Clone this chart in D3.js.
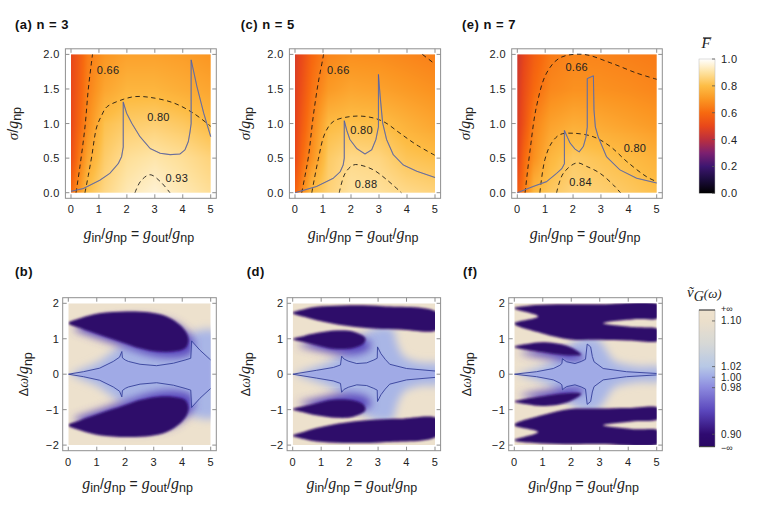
<!DOCTYPE html>
<html><head><meta charset="utf-8">
<script src="https://cdn.jsdelivr.net/npm/d3@7/dist/d3.min.js"></script>
<style>
html,body{margin:0;padding:0;background:#fff;}
svg{display:block}
text{white-space:pre}
</style></head>
<body>
<svg id="fig" width="763" height="514" xmlns="http://www.w3.org/2000/svg"></svg>
<script>
// ================= DATA =================
const topTitles = ["(a) n = 3", "(c) n = 5", "(e) n = 7"];
const bottomTitles = ["(b)", "(d)", "(f)"];
const xTickValues = [0, 1, 2, 3, 4, 5];
const sigmaTickValues = [0, 0.5, 1, 1.5, 2];
const omegaTickValues = [-2, -1, 0, 1, 2];
const fBarTicks = [0, 0.2, 0.4, 0.6, 0.8, 1.0];
const vBarTickValues = [0.86, 0.90, 0.98, 1.00, 1.02, 1.10, 1.14];
const vBarTickLabels = ["−∞", "0.90", "0.98", "1.00", "1.02", "1.10", "+∞"];

// mean fidelity F(g, sigma) sampled on a coarse grid (rows: sigma, cols: g)
const fGridG = [0, 0.25, 0.6, 1.2, 2, 3, 4, 5];
const fGridSigma = [0, 0.5, 1, 1.5, 2];
const fieldN3 = [
  [0.60, 0.69, 0.81, 0.87, 0.92, 0.955, 0.92, 0.89],
  [0.52, 0.62, 0.74, 0.84, 0.89, 0.91, 0.89, 0.86],
  [0.50, 0.58, 0.68, 0.81, 0.84, 0.85, 0.83, 0.795],
  [0.50, 0.56, 0.655, 0.74, 0.78, 0.78, 0.76, 0.74],
  [0.50, 0.55, 0.64, 0.70, 0.73, 0.73, 0.72, 0.70]];
const fieldN5 = [
  [0.58, 0.665, 0.80, 0.855, 0.90, 0.895, 0.875, 0.86],
  [0.50, 0.60, 0.69, 0.835, 0.875, 0.865, 0.82, 0.805],
  [0.48, 0.56, 0.655, 0.795, 0.81, 0.805, 0.77, 0.74],
  [0.47, 0.53, 0.62, 0.71, 0.74, 0.73, 0.71, 0.69],
  [0.46, 0.51, 0.59, 0.665, 0.685, 0.68, 0.665, 0.65]];
const fieldN7 = [
  [0.56, 0.64, 0.79, 0.83, 0.86, 0.85, 0.83, 0.81],
  [0.48, 0.60, 0.69, 0.785, 0.835, 0.815, 0.797, 0.77],
  [0.46, 0.54, 0.66, 0.73, 0.76, 0.75, 0.73, 0.71],
  [0.45, 0.52, 0.60, 0.67, 0.69, 0.69, 0.68, 0.665],
  [0.44, 0.50, 0.57, 0.64, 0.665, 0.66, 0.65, 0.64]];

// solid boundary curves (g, sigma)
const boundaryN3 = [[0,0.02],[0.44,0.06],[1.03,0.18],[1.39,0.28],[1.69,0.42],[1.81,0.52],[1.87,0.66],[1.87,1.31],[1.99,1.15],[2.18,1.0],[2.47,0.81],[2.83,0.64],[3.19,0.57],[3.55,0.55],[3.9,0.56],[4.08,0.62],[4.2,0.74],[4.26,0.88],[4.3,1.0],[4.3,1.92],[4.51,1.53],[4.75,1.15],[5,0.81]];
const boundaryN5 = [[0,0.0],[0.77,0.09],[1.37,0.21],[1.61,0.30],[1.72,0.40],[1.76,0.5],[1.76,1.04],[1.85,0.9],[1.96,0.77],[2.2,0.64],[2.5,0.56],[2.74,0.62],[2.89,0.77],[2.98,0.95],[2.98,1.71],[3.04,1.40],[3.13,1.01],[3.27,0.77],[3.51,0.55],[3.87,0.40],[4.35,0.31],[5,0.22]];
const boundaryN7 = [[0,0.0],[0.57,0.09],[1.05,0.16],[1.41,0.28],[1.6,0.35],[1.69,0.42],[1.69,0.9],[1.8,0.8],[1.89,0.72],[2.07,0.63],[2.22,0.59],[2.37,0.67],[2.46,0.8],[2.51,0.95],[2.51,1.65],[2.73,1.69],[2.75,1.2],[2.8,0.95],[2.9,0.81],[3.2,0.52],[3.68,0.33],[4.28,0.21],[5,0.14]];

// dashed fidelity contours
const contoursN3 = [
  [[0.18,0],[0.32,0.38],[0.5,0.95],[0.62,1.5],[0.77,2.0]],
  [[0.5,0],[0.62,0.25],[0.74,0.52],[0.92,0.95],[1.1,1.12],[1.28,1.24],[1.87,1.35],[2.3,1.39],[2.8,1.38],[3.66,1.3],[4.38,1.15],[5,0.96]],
  [[2.29,0],[2.5,0.17],[2.83,0.26],[3.2,0.16],[3.54,0]]];
const contoursN5 = [
  [[0.24,0],[0.36,0.25],[0.48,0.52],[0.65,1.1],[0.83,1.59],[0.99,1.93],[1.02,2.0]],
  [[4.55,2.0],[5,1.86]],
  [[0.6,0],[0.83,0.48],[1.07,0.86],[1.37,1.03],[1.96,1.1],[2.56,1.1],[3.15,1.03],[3.75,0.86],[4.35,0.69],[5,0.54]],
  [[1.58,0],[1.79,0.28],[2.08,0.40],[2.32,0.40],[2.8,0.33],[3.27,0.19],[3.8,0]]];
const contoursN7 = [
  [[0.28,0],[0.46,0.62],[0.69,1.25],[1.05,1.73],[1.53,1.95],[2.37,2.0],[3.33,1.88],[4.28,1.73],[5,1.64]],
  [[0.81,0],[0.99,0.48],[1.23,0.72],[1.53,0.84],[2.0,0.86],[2.72,0.81],[3.33,0.67],[3.93,0.45],[4.64,0.23],[5,0.16]],
  [[1.41,0],[1.65,0.28],[2.13,0.43],[2.49,0.38],[2.97,0.28],[3.45,0.11],[3.7,0]]];
const contourLabelsN3 = [{t:"0.66", g:1.33, s:1.77}, {t:"0.80", g:3.13, s:1.10}, {t:"0.93", g:3.79, s:0.21}];
const contourLabelsN5 = [{t:"0.66", g:1.55, s:1.78}, {t:"0.80", g:2.38, s:0.90}, {t:"0.88", g:2.54, s:0.13}];
const contourLabelsN7 = [{t:"0.66", g:2.13, s:1.82}, {t:"0.80", g:4.22, s:0.65}, {t:"0.84", g:2.27, s:0.16}];

// bottom panels: upper halves (mirrored about Δω = 0)
const starN3 = [[0,0],[0.53,0.07],[1.1,0.17],[1.58,0.36],[1.8,0.48],[1.88,0.64],[1.9,0.46],[2.0,0.4],[2.11,0.36],[2.52,0.28],[3.1,0.24],[3.69,0.31],[4.1,0.4],[4.3,0.45],[4.33,0.94],[4.62,0.68],[5,0.40]];
const starN5 = [[0,0],[0.84,0.11],[1.43,0.19],[1.68,0.26],[1.72,0.51],[1.8,0.43],[1.95,0.37],[2.25,0.3],[2.6,0.32],[2.85,0.4],[2.97,0.45],[2.98,0.77],[3.1,0.58],[3.25,0.42],[3.41,0.28],[4.0,0.16],[5,0.09]];
const starN7 = [[0,0],[0.78,0.07],[1.37,0.16],[1.6,0.25],[1.67,0.3],[1.69,0.44],[1.75,0.4],[1.84,0.35],[2.13,0.3],[2.35,0.36],[2.5,0.42],[2.56,0.85],[2.68,0.77],[2.74,0.5],[2.8,0.35],[3.12,0.16],[3.94,0.07],[5,0.02]];
const haloN3 = [[0.05,0],[0.5,0.15],[1.0,0.32],[1.5,0.6],[2.0,0.85],[3.0,0.8],[3.8,0.85],[4.3,1.15],[4.7,1.25],[5.2,1.2]];
const haloN5 = [[0.05,0],[0.8,0.2],[1.4,0.4],[1.9,0.7],[2.4,1.05],[2.9,1.3],[3.5,1.3],[3.65,0.9],[3.9,0.5],[4.5,0.32],[5.2,0.27]];
const haloN7 = [[0.05,0],[0.8,0.17],[1.4,0.4],[1.8,0.7],[2.3,1.0],[2.9,1.02],[3.2,0.72],[3.5,0.38],[4.3,0.22],[5.2,0.17]];
const innerLobesN3 = [[[0,1.44],[0.42,1.58],[1.1,1.72],[2.05,1.77],[2.87,1.74],[3.45,1.63],[3.92,1.39],[4.16,1.15],[4.22,0.94],[4.1,0.73],[3.69,0.64],[3.1,0.64],[2.52,0.73],[1.93,0.89],[1.1,1.11],[0.42,1.3]]];
const outerLobesN3 = [];
const innerLobesN5 = [[[0,0.99],[0.4,1.08],[0.84,1.16],[1.55,1.23],[2.13,1.2],[2.55,1.02],[2.5,0.87],[2.13,0.74],[1.43,0.72],[0.84,0.82],[0.4,0.9]]];
const outerLobesN5 = [[[0,1.73],[0.4,1.83],[0.84,1.9],[1.78,1.94],[3.18,1.92],[5.1,1.73],[5.1,1.26],[3.77,1.26],[2.95,1.28],[2.2,1.33],[1.43,1.42],[0.84,1.52],[0.4,1.62]]];
const innerLobesN7 = [[[0,0.77],[0.45,0.85],[1.0,0.9],[1.84,0.8],[2.35,0.55],[1.9,0.53],[1.0,0.62],[0.42,0.69]]];
const outerLobesN7 = [[[0,1.86],[0.5,1.93],[1.5,1.97],[3,1.97],[5.1,1.95],[5.1,1.6],[4.2,1.55],[3.12,1.44],[4.2,1.33],[5.1,1.25],[5.1,0.96],[4,0.95],[3,0.97],[1.96,0.98],[1.0,1.15],[0,1.43],[0.84,1.63]]];

// ================= LAYOUT / STYLE =================
const svg = d3.select("#fig");
const defs = svg.append("defs");
const SANS = '"Liberation Sans", Arial, Helvetica, sans-serif';
const SERIF = '"Liberation Serif", "DejaVu Serif", "Times New Roman", serif';
const frameColor = "#8f8f8f";

const fColor = d3.scaleLinear()
  .domain([0, 0.1, 0.2, 0.3, 0.4, 0.5, 0.6, 0.7, 0.8, 0.9, 1.0])
  .range(["#000000", "#1b0c3c", "#3d1670", "#7c2070", "#bb2f3e", "#e8471a", "#f7690f", "#fb9622", "#fdbd45", "#fee2a0", "#ffffff"])
  .interpolate(d3.interpolateRgb).clamp(true);
const vColor = d3.scaleLinear()
  .domain([0.86, 0.90, 0.94, 0.98, 1.00, 1.02, 1.06, 1.10, 1.14])
  .range(["#2a0864", "#2f0a70", "#5a46bc", "#8c8ade", "#a0aae6", "#b7c8e6", "#d6d8d6", "#ebdfcb", "#eee2ce"])
  .interpolate(d3.interpolateRgb).clamp(true);

const topPanels = [{x0:71, w:139.7}, {x0:295, w:140}, {x0:517.3, w:139.4}];
const TY0 = 54.4, TH = 138.3;
const botPanels = [{x0:68.3, w:142.4}, {x0:292.7, w:142.3}, {x0:514.3, w:142.4}];
const BY0 = 303.3, BH = 141.8;
const PAD = 5.6;
const topTitleX = [15, 240.7, 462];
const botTitleX = [15, 246.7, 463];
const topYLabelX = [18, 250, 470];
const botYLabelX = [28.5, 250, 471];

const fields = [fieldN3, fieldN5, fieldN7];
const boundaries = [boundaryN3, boundaryN5, boundaryN7];
const contours = [contoursN3, contoursN5, contoursN7];
const cLabels = [contourLabelsN3, contourLabelsN5, contourLabelsN7];
const stars = [starN3, starN5, starN7];
const halos = [haloN3, haloN5, haloN7];
const innerLobes = [innerLobesN3, innerLobesN5, innerLobesN7];
const outerLobes = [outerLobesN3, outerLobesN5, outerLobesN7];

function addBlur(id, sd) {
  const f = defs.append("filter").attr("id", id)
    .attr("x", "-30%").attr("y", "-30%").attr("width", "160%").attr("height", "160%");
  f.append("feGaussianBlur").attr("stdDeviation", sd);
}
addBlur("blurHalo", 4.5);
addBlur("blurShadow", 4);
addBlur("blurLobe", 0.9);

function bilinear(gx, gy, grid, x, y) {
  let i = Math.min(Math.max(d3.bisectRight(gx, x) - 1, 0), gx.length - 2);
  let j = Math.min(Math.max(d3.bisectRight(gy, y) - 1, 0), gy.length - 2);
  const tx = Math.min(Math.max((x - gx[i]) / (gx[i+1] - gx[i]), 0), 1);
  const ty = Math.min(Math.max((y - gy[j]) / (gy[j+1] - gy[j]), 0), 1);
  const a = grid[j][i], b = grid[j][i+1], c = grid[j+1][i], d = grid[j+1][i+1];
  return (a*(1-tx) + b*tx)*(1-ty) + (c*(1-tx) + d*tx)*ty;
}

function richText(parent, parts, x, y, anchor, rotate) {
  const t = parent.append("text").attr("x", x).attr("y", y)
    .attr("text-anchor", anchor).attr("fill", "#222");
  if (rotate) t.attr("transform", `rotate(-90,${x},${y})`);
  let shift = 0;
  parts.forEach(p => {
    const target = p.sub ? 3.2 : 0;
    t.append("tspan").text(p.t)
      .attr("font-family", p.serif ? SERIF : SANS)
      .attr("font-style", p.it ? "italic" : "normal")
      .attr("font-size", p.s)
      .attr("dy", target - shift);
    shift = target;
  });
  return t;
}
const gPart = {t:"g", serif:true, it:true, s:16};
const xLabelParts = [gPart, {t:"in", s:12.5, sub:true}, {t:"/", s:14}, gPart, {t:"np", s:12.5, sub:true},
  {t:" = ", s:14}, gPart, {t:"out", s:12.5, sub:true}, {t:"/", s:14}, gPart, {t:"np", s:12.5, sub:true}];
const sigmaLabelParts = [{t:"σ", serif:true, it:true, s:15}, {t:"/", s:14}, gPart, {t:"np", s:12.5, sub:true}];
const omegaLabelParts = [{t:"Δ", s:12.5}, {t:"ω", serif:true, it:true, s:14}, {t:"/", s:14}, gPart, {t:"np", s:12.5, sub:true}];

function drawFrame(g, xs, ys, x0, y0, w, h, xticks, yticks, yfmt) {
  const L = x0 - PAD, R = x0 + w + PAD, T = y0 - PAD, B = y0 + h + PAD;
  g.append("rect").attr("x", L).attr("y", T).attr("width", R - L).attr("height", B - T)
    .attr("fill", "none").attr("stroke", frameColor).attr("stroke-width", 1);
  xticks.forEach(v => {
    const px = xs(v);
    g.append("line").attr("x1", px).attr("x2", px).attr("y1", B).attr("y2", B - 4).attr("stroke", frameColor);
    g.append("line").attr("x1", px).attr("x2", px).attr("y1", T).attr("y2", T + 4).attr("stroke", frameColor);
    g.append("text").attr("x", px).attr("y", B + 14.8).attr("text-anchor", "middle")
      .attr("font-family", SANS).attr("font-size", 11).attr("letter-spacing", 0.4).attr("fill", "#222")
      .text(d3.format("d")(v));
  });
  yticks.forEach(v => {
    const py = ys(v);
    g.append("line").attr("x1", L).attr("x2", L + 4).attr("y1", py).attr("y2", py).attr("stroke", frameColor);
    g.append("line").attr("x1", R).attr("x2", R - 4).attr("y1", py).attr("y2", py).attr("stroke", frameColor);
    g.append("text").attr("x", L - yfmt.gap).attr("y", py).attr("dy", "0.36em").attr("text-anchor", "end")
      .attr("font-family", SANS).attr("font-size", 11).attr("letter-spacing", 0.4).attr("fill", "#222")
      .text(yfmt.f(v));
  });
  return {L, R, T, B};
}

// ================= TOP PANELS =================
topPanels.forEach((p, k) => {
  const g = svg.append("g");
  const xs = d3.scaleLinear().domain([0, 5]).range([p.x0, p.x0 + p.w]);
  const ys = d3.scaleLinear().domain([0, 2]).range([TY0 + TH, TY0]);
  const scale = 2;
  const cw = Math.round(p.w * scale), ch = Math.round(TH * scale);
  const cv = document.createElement("canvas"); cv.width = cw; cv.height = ch;
  const ctx = cv.getContext("2d"); const img = ctx.createImageData(cw, ch);
  for (let py = 0; py < ch; py++) {
    const sv = ys.invert(TY0 + (py + 0.5) / scale);
    for (let px = 0; px < cw; px++) {
      const gv = xs.invert(p.x0 + (px + 0.5) / scale);
      const c = d3.rgb(fColor(bilinear(fGridG, fGridSigma, fields[k], gv, sv)));
      const o = (py * cw + px) * 4;
      img.data[o] = c.r; img.data[o+1] = c.g; img.data[o+2] = c.b; img.data[o+3] = 255;
    }
  }
  ctx.putImageData(img, 0, 0);
  g.append("image").attr("href", cv.toDataURL()).attr("x", p.x0).attr("y", TY0)
    .attr("width", p.w).attr("height", TH).attr("preserveAspectRatio", "none");

  const line = d3.line().x(d => xs(d[0])).y(d => ys(d[1]));
  const smooth = d3.line().x(d => xs(d[0])).y(d => ys(d[1])).curve(d3.curveCatmullRom.alpha(0.5));
  contours[k].forEach(c => {
    g.append("path").attr("d", smooth(c)).attr("fill", "none").attr("stroke", "#111")
      .attr("stroke-width", 0.85).attr("stroke-dasharray", "4.5,3.5");
  });
  g.append("path").attr("d", line(boundaries[k])).attr("fill", "none")
    .attr("stroke", "#8c8c98").attr("stroke-width", 1.1).attr("stroke-linejoin", "round");
  g.append("path").attr("d", line(boundaries[k])).attr("fill", "none")
    .attr("stroke", "#3c44a0").attr("stroke-width", 0.55).attr("stroke-opacity", 0.8).attr("stroke-linejoin", "round");
  cLabels[k].forEach(l => {
    g.append("text").attr("x", xs(l.g)).attr("y", ys(l.s)).attr("dy", "0.36em").attr("text-anchor", "middle")
      .attr("font-family", SANS).attr("font-size", 11).attr("letter-spacing", 0.3).attr("fill", "#222").text(l.t);
  });
  drawFrame(g, xs, ys, p.x0, TY0, p.w, TH, xTickValues, sigmaTickValues, {gap: 5.7, f: d3.format(".1f")});
  g.append("text").attr("x", topTitleX[k]).attr("y", 28.5).attr("font-family", SANS).attr("font-weight", "bold")
    .attr("font-size", 13).attr("letter-spacing", 0.5).attr("fill", "#111").text(topTitles[k]);
  richText(g, xLabelParts, p.x0 + p.w / 2 - 2, 239, "middle", false);
  richText(g, sigmaLabelParts, topYLabelX[k], TY0 + TH / 2, "middle", true);
});

// ================= BOTTOM PANELS =================
botPanels.forEach((p, k) => {
  const g = svg.append("g");
  const xs = d3.scaleLinear().domain([0, 5]).range([p.x0, p.x0 + p.w]);
  const ys = d3.scaleLinear().domain([-2, 2]).range([BY0 + BH, BY0]);
  const cid = "clipB" + k;
  defs.append("clipPath").attr("id", cid).append("rect")
    .attr("x", p.x0).attr("y", BY0).attr("width", p.w).attr("height", BH);
  const inner = g.append("g").attr("clip-path", `url(#${cid})`);
  inner.append("rect").attr("x", p.x0).attr("y", BY0).attr("width", p.w).attr("height", BH)
    .attr("fill", vColor(1.12));
  const mirror = pts => pts.map(d => [d[0], -d[1]]);
  const closed = d3.line().x(d => xs(d[0])).y(d => ys(d[1])).curve(d3.curveCatmullRomClosed.alpha(0.5));
  const open = d3.line().x(d => xs(d[0])).y(d => ys(d[1]));
  const halo = halos[k].concat(mirror(halos[k]).reverse());
  inner.append("path").attr("d", closed(halo)).attr("fill", vColor(1.008)).attr("filter", "url(#blurHalo)");
  innerLobes[k].forEach(lobe => {
    [lobe, mirror(lobe)].forEach(pts => {
      const sh = pts.map(d => [d[0] + 0.2, d[1] - Math.sign(d[1]) * 0.16]);
      inner.append("path").attr("d", closed(sh)).attr("fill", vColor(0.94)).attr("filter", "url(#blurShadow)");
    });
  });
  const star = stars[k].concat(mirror(stars[k]).reverse());
  inner.append("path").attr("d", open(star) + "Z").attr("fill", vColor(1.0)).attr("filter", "url(#blurLobe)");
  innerLobes[k].concat(outerLobes[k]).forEach(lobe => {
    [lobe, mirror(lobe)].forEach(pts => {
      inner.append("path").attr("d", closed(pts)).attr("fill", vColor(0.88)).attr("filter", "url(#blurLobe)");
    });
  });
  [stars[k], mirror(stars[k])].forEach(pts => {
    inner.append("path").attr("d", open(pts)).attr("fill", "none").attr("stroke", "#34409a")
      .attr("stroke-width", 0.9).attr("stroke-linejoin", "round");
  });
  drawFrame(g, xs, ys, p.x0, BY0, p.w, BH, xTickValues, omegaTickValues,
    {gap: 3.5, f: v => v < 0 ? "−" + Math.abs(v) : String(v)});
  g.append("text").attr("x", botTitleX[k]).attr("y", 276).attr("font-family", SANS).attr("font-weight", "bold")
    .attr("font-size", 13).attr("letter-spacing", 0.5).attr("fill", "#111").text(bottomTitles[k]);
  richText(g, xLabelParts, p.x0 + p.w / 2 - 2, 489, "middle", false);
  richText(g, omegaLabelParts, botYLabelX[k], BY0 + BH / 2, "middle", true);
});

// ================= COLORBARS =================
(function () {
  const bx = 699, bw = 16, top = 59, bot = 193.3;
  const ys = d3.scaleLinear().domain([0, 1]).range([bot, top]);
  const grad = defs.append("linearGradient").attr("id", "gradF").attr("x1", 0).attr("y1", 1).attr("x2", 0).attr("y2", 0);
  d3.range(0, 1.0001, 0.05).forEach(v => grad.append("stop").attr("offset", v).attr("stop-color", fColor(v)));
  svg.append("rect").attr("x", bx).attr("y", top).attr("width", bw).attr("height", bot - top)
    .attr("fill", "url(#gradF)").attr("stroke", "#bbb").attr("stroke-width", 0.5);
  fBarTicks.forEach(v => {
    svg.append("line").attr("x1", bx + bw - 3).attr("x2", bx + bw).attr("y1", ys(v)).attr("y2", ys(v))
      .attr("stroke", "#555").attr("stroke-width", 0.8);
    svg.append("text").attr("x", bx + bw + 6).attr("y", ys(v)).attr("dy", "0.36em")
      .attr("font-family", SANS).attr("font-size", 11).attr("letter-spacing", 0.4).attr("fill", "#222")
      .text(d3.format(".1f")(v));
  });
  svg.append("text").attr("x", 701.5).attr("y", 48).attr("font-family", SERIF).attr("font-style", "italic")
    .attr("font-size", 15).attr("fill", "#222").text("F");
  svg.append("line").attr("x1", 703).attr("x2", 711.5).attr("y1", 37.8).attr("y2", 37.8).attr("stroke", "#222").attr("stroke-width", 0.9);
})();

(function () {
  const bx = 699, bw = 16, top = 310, bot = 446.7, hgt = bot - top;
  const pos = d3.scaleLinear().domain(vBarTickValues)
    .range([1, 0.909, 0.568, 0.492, 0.414, 0.08, 0].map(f => top + f * hgt));
  const grad = defs.append("linearGradient").attr("id", "gradV").attr("gradientUnits", "userSpaceOnUse")
    .attr("x1", 0).attr("y1", top).attr("x2", 0).attr("y2", bot);
  d3.range(vBarTickValues[vBarTickValues.length - 1], vBarTickValues[0] - 1e-9, -0.004).forEach(v => {
    grad.append("stop").attr("offset", (pos(v) - top) / hgt).attr("stop-color", vColor(v));
  });
  svg.append("rect").attr("x", bx).attr("y", top).attr("width", bw).attr("height", hgt)
    .attr("fill", "url(#gradV)").attr("stroke", "#999").attr("stroke-width", 0.5);
  svg.append("line").attr("x1", bx).attr("x2", bx + bw).attr("y1", top).attr("y2", top).attr("stroke", "#333").attr("stroke-width", 1);
  svg.append("line").attr("x1", bx).attr("x2", bx + bw).attr("y1", bot).attr("y2", bot).attr("stroke", "#333").attr("stroke-width", 1);
  vBarTickValues.forEach((v, i) => {
    const inf = (i === 0 || i === vBarTickValues.length - 1);
    if (!inf) svg.append("line").attr("x1", bx + bw - 3).attr("x2", bx + bw).attr("y1", pos(v)).attr("y2", pos(v))
      .attr("stroke", "#555").attr("stroke-width", 0.8);
    svg.append("text").attr("x", bx + bw + 6).attr("y", pos(v) + (inf ? (i === 0 ? 1 : -1) : 0)).attr("dy", "0.35em")
      .attr("font-family", SANS).attr("font-size", inf ? 9 : 10).attr("letter-spacing", inf ? 0 : 0.3).attr("fill", "#222")
      .text(vBarTickLabels[i]);
  });
  const t = svg.append("text").attr("x", 687).attr("y", 297).attr("fill", "#222");
  t.append("tspan").text("ṽ").attr("font-family", SERIF).attr("font-style", "italic").attr("font-size", 15);
  t.append("tspan").text("G").attr("font-family", SERIF).attr("font-style", "italic").attr("font-size", 14).attr("dy", 4);
  t.append("tspan").text("(ω)").attr("font-family", SERIF).attr("font-style", "italic").attr("font-size", 13).attr("dy", -3);
})();
</script>
</body></html>
